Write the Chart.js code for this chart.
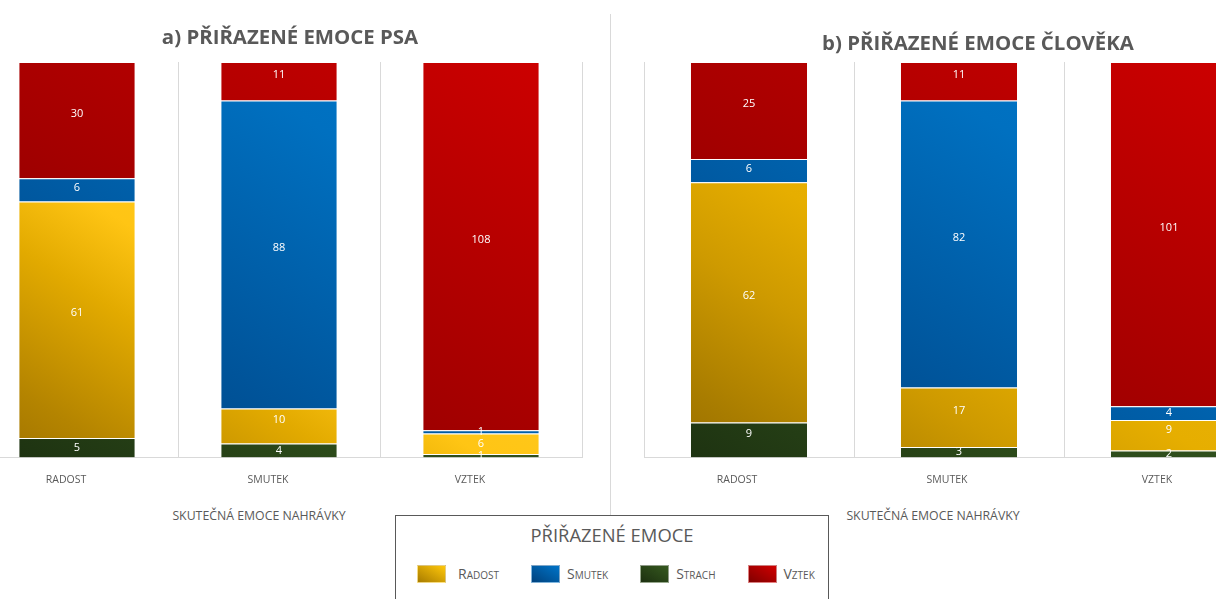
<!DOCTYPE html>
<html>
<head>
<meta charset="utf-8">
<script src="https://cdn.jsdelivr.net/npm/chart.js@4.4.1/dist/chart.umd.min.js"></script>
<style>
html,body{margin:0;padding:0;background:#fff;}
body{width:1216px;height:599px;overflow:hidden;position:relative;font-family:'Open Sans',sans-serif;color:#595959;}
canvas{position:absolute;top:0;}
#cA{left:-44px;}
#cB{left:600px;}
.title{position:absolute;font-weight:700;font-size:20.4px;line-height:24px;white-space:nowrap;transform:translateX(-50%);color:#595959;}
.axt{position:absolute;font-size:12.3px;line-height:14px;white-space:nowrap;transform:translateX(-50%);color:#595959;}
#sep{position:absolute;left:610px;top:14px;width:1px;height:501px;background:#D9D9D9;z-index:3;}
#legend{position:absolute;left:395px;top:515px;width:432px;height:100px;border:1px solid #595959;background:#fff;z-index:4;}
#legTitle{position:absolute;left:0;right:0;top:8px;text-align:center;font-size:18.4px;line-height:22px;color:#595959;}
#legItems{position:absolute;left:21px;top:49px;display:flex;align-items:center;height:18px;}
.li{display:flex;align-items:center;margin-right:32px;}
.sw{width:27px;height:16px;border:1px solid rgba(255,255,255,0.5);box-sizing:content-box;}
.lt{margin-left:7px;font-size:14px;line-height:18px;font-variant:small-caps;color:#595959;}
.li:first-child .lt{margin-left:12px;}
</style>
</head>
<body>
<canvas id="cA" width="680" height="502"></canvas>
<canvas id="cB" width="720" height="502"></canvas>
<div id="sep"></div>
<div class="title" style="left:290px;top:24px;">a) PŘIŘAZENÉ EMOCE PSA</div>
<div class="title" style="left:978px;top:30px;">b) PŘIŘAZENÉ EMOCE ČLOVĚKA</div>
<div class="axt" style="left:259px;top:509px;">SKUTEČNÁ EMOCE NAHRÁVKY</div>
<div class="axt" style="left:933px;top:509px;">SKUTEČNÁ EMOCE NAHRÁVKY</div>
<div id="legend"><div id="legTitle">PŘIŘAZENÉ EMOCE</div><div id="legItems"></div></div>
<script>
// ---- DATA ----
const categories = ['RADOST', 'SMUTEK', 'VZTEK'];
const seriesNames = ['Radost', 'Smutek', 'Strach', 'Vztek'];
// a) assigned emotions of the dog
const psaRadost = [61, 10, 6];
const psaSmutek = [6, 88, 1];
const psaStrach = [5, 4, 1];
const psaVztek  = [30, 11, 108];
// b) assigned emotions of the human
const clovekRadost = [62, 17, 9];
const clovekSmutek = [6, 82, 4];
const clovekStrach = [9, 3, 2];
const clovekVztek  = [25, 11, 101];

// ---- STYLE ----
const palA = {
  Radost: [[0, '#9C7000'], [0.12, '#B48400'], [0.3, '#E2AA00'], [0.42, '#FFC514'], [1, '#FFD23C']],
  Smutek: [[0, '#003E7A'], [0.32, '#00549A'], [0.7, '#0070C0'], [1, '#0078CA']],
  Strach: [[0, '#1C3010'], [0.3, '#2C4A1A'], [1, '#3B6224']],
  Vztek:  [[0, '#7A0000'], [0.45, '#A30000'], [1, '#CF0000']]
};
const palB = {
  Radost: [[0, '#946A00'], [0.12, '#A87C00'], [0.3, '#CE9A00'], [0.45, '#E6AE00'], [1, '#F2BE20']],
  Smutek: palA.Smutek,
  Strach: palA.Strach,
  Vztek:  palA.Vztek
};
const legendSwatch = {
  Radost: ['#A87C00', '#FFC70A'],
  Smutek: ['#00427E', '#0074C8'],
  Strach: ['#1C3010', '#36591F'],
  Vztek:  ['#800000', '#D00000']
};

function gradientFill(stops) {
  return function (ctx) {
    const chart = ctx.chart;
    const a = chart.chartArea;
    if (!a) return stops[Math.floor(stops.length / 2)][1];
    const W = a.right - a.left, H = a.bottom - a.top;
    const k = 2 / (1 / (W * W) + 1 / (H * H));
    const g = chart.ctx.createLinearGradient(a.left, a.bottom, a.left + k / W, a.bottom - k / H);
    stops.forEach(s => g.addColorStop(s[0], s[1]));
    return g;
  };
}

const valueLabels = {
  id: 'valueLabels',
  afterDatasetsDraw(chart) {
    const c = chart.ctx;
    c.save();
    c.font = '11px "Open Sans"';
    c.fillStyle = '#FFFFFF';
    c.textAlign = 'center';
    c.textBaseline = 'middle';
    chart.data.datasets.forEach((ds, di) => {
      const meta = chart.getDatasetMeta(di);
      meta.data.forEach((el, i) => {
        const p = el.getProps(['x', 'y', 'base'], true);
        const h = Math.abs(p.base - p.y);
        const off = Math.max(0, Math.min(6.5, (h - 20) / 2));
        c.fillText(String(ds.counts[i]), p.x, (p.y + p.base) / 2 - off);
      });
    });
    c.restore();
  }
};

function makeChart(id, counts, pal, padL, padR, barPct, labelOffset) {
  // stack order bottom -> top
  const order = ['Strach', 'Radost', 'Smutek', 'Vztek'];
  const totals = categories.map((_, i) => order.reduce((s, n) => s + counts[n][i], 0));
  const datasets = order.map(n => ({
    label: n,
    data: counts[n].map((v, i) => v / totals[i] * 100),
    counts: counts[n],
    backgroundColor: gradientFill(pal[n]),
    borderColor: 'rgba(255,255,255,0.28)',
    borderWidth: 1,
    categoryPercentage: 1,
    barPercentage: barPct
  }));
  return new Chart(document.getElementById(id), {
    type: 'bar',
    data: { labels: categories, datasets },
    options: {
      responsive: false,
      animation: false,
      layout: { padding: { top: 62, left: padL, right: padR, bottom: 0 } },
      plugins: { legend: { display: false }, title: { display: false }, tooltip: { enabled: false } },
      scales: {
        x: {
          stacked: true,
          offset: true,
          grid: { offset: true, color: '#D9D9D9', drawTicks: false },
          border: { color: '#D9D9D9' },
          ticks: { padding: 16, labelOffset: labelOffset, color: '#595959', font: { family: 'Open Sans', size: 10.5 } }
        },
        y: { stacked: true, display: false, min: 0, max: 100 }
      }
    },
    plugins: [valueLabels]
  });
}

makeChart('cA', { Radost: psaRadost, Smutek: psaSmutek, Strach: psaStrach, Vztek: psaVztek }, palA, 20, 54, 0.58, -11);
makeChart('cB', { Radost: clovekRadost, Smutek: clovekSmutek, Strach: clovekStrach, Vztek: clovekVztek }, palB, 44, 46, 0.562, -12);

// HTML legend built from the series names
const li = document.getElementById('legItems');
seriesNames.forEach(n => {
  const item = document.createElement('div');
  item.className = 'li';
  const sw = document.createElement('div');
  sw.className = 'sw';
  sw.style.background = 'linear-gradient(to top right,' + legendSwatch[n][0] + ',' + legendSwatch[n][1] + ')';
  const t = document.createElement('span');
  t.className = 'lt';
  t.textContent = n;
  item.appendChild(sw);
  item.appendChild(t);
  li.appendChild(item);
});
</script>
</body>
</html>
